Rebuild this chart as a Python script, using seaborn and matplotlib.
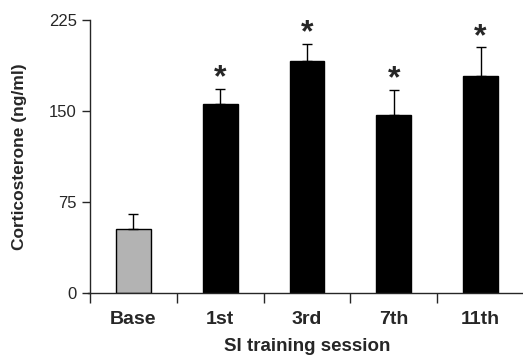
import numpy as np
import pandas as pd
import matplotlib
matplotlib.use("Agg")
import matplotlib.pyplot as plt
import seaborn as sns

# values
sessions = ["Base", "1st", "3rd", "7th", "11th"]
cort_mean = [53, 156, 191.5, 146.5, 178.5]
cort_sem = [12.5, 12.5, 14, 21, 24]
signif = [False, True, True, True, True]
bar_colors = ["#b3b3b3", "#000000", "#000000", "#000000", "#000000"]

sns.set_style("ticks")
plt.rcParams["font.family"] = ["Liberation Sans", "DejaVu Sans"]

df = pd.DataFrame({"session": sessions, "cort": cort_mean})

fig = plt.figure(figsize=(5.23, 3.58), dpi=100)
ax = fig.add_axes([90 / 523, 1 - 293 / 358, 434 / 523, 273 / 358])

sns.barplot(data=df, x="session", y="cort", hue="session", palette=bar_colors,
            legend=False, errorbar=None, width=0.4, edgecolor="black",
            linewidth=1, ax=ax)

# upper-only error bars
x = np.arange(len(sessions))
ax.errorbar(x, cort_mean, yerr=[np.zeros(len(x)), cort_sem], fmt="none",
            ecolor="black", elinewidth=1, capsize=3.5, capthick=1, zorder=1)

# significance stars
for xi, m, e, s in zip(x, cort_mean, cort_sem, signif):
    if s:
        ax.text(xi, m + e - 4, "*", ha="center", va="bottom",
                fontsize=23, fontweight="bold")

ax.set_xlim(-0.5, 4.5)
ax.set_ylim(0, 225)
ax.set_yticks([0, 75, 150, 225])
ax.tick_params(axis="y", labelsize=12, length=6, width=1, direction="out")
ax.set_xticks(x)
ax.set_xticklabels(sessions, fontsize=14, fontweight="bold")
ax.tick_params(axis="x", which="major", length=0, pad=13)
ax.set_xticks(np.arange(-0.5, 5.0, 1), minor=True)
ax.tick_params(axis="x", which="minor", length=7, width=1, direction="out")

ax.set_xlabel("SI training session", fontsize=13.5, fontweight="bold", labelpad=7)
ax.set_ylabel("Corticosterone (ng/ml)", fontsize=12.5, fontweight="bold", labelpad=16)

sns.despine(ax=ax)
ax.spines["left"].set_linewidth(1)
ax.spines["bottom"].set_linewidth(1)
ax.spines["bottom"].set_bounds(-0.52, 4.5)

fig.savefig("out.png", dpi=100)
